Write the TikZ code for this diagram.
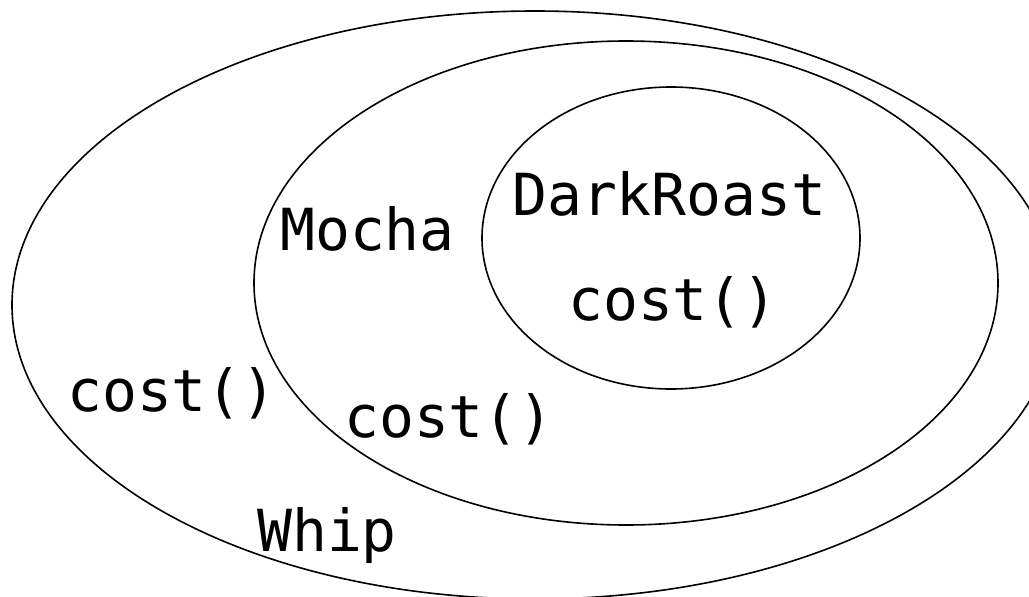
\documentclass[tikz,border=0pt]{standalone}
\usepackage{fontspec}
\setmonofont{DejaVu Sans Mono}
\begin{document}
\begin{tikzpicture}[x=1pt,y=-1pt,
  ring/.style={draw=black,line width=1.6pt},
  lbl/.style={anchor=base west,inner sep=0pt,font=\ttfamily\fontsize{58}{69}\selectfont}]
\useasboundingbox (0,0) rectangle (1029,597);
\clip (0,0) rectangle (1029,597);
\fill[white] (0,0) rectangle (1029,597);
\draw[ring] (535,305) ellipse [x radius=523, y radius=294];
\draw[ring] (626,283) ellipse [x radius=372, y radius=242];
\draw[ring] (671,238) ellipse [x radius=189, y radius=151];
\node[lbl] (dark) at (512,215) {DarkRoast};
\node[lbl] (c1) at (568,320) {cost()};
\node[lbl] (mocha) at (280,250) {Mocha};
\node[lbl] (c2) at (344,437) {cost()};
\node[lbl] (c3) at (67,411) {cost()};
\node[lbl] (whip) at (257,551) {Whip};
\end{tikzpicture}
\end{document}
